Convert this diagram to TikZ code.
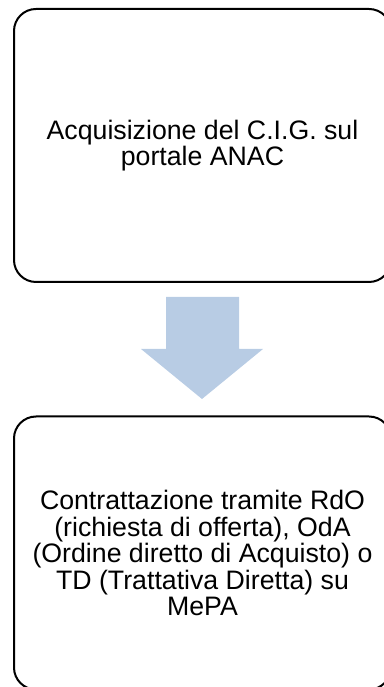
\documentclass[tikz,border=0pt]{standalone}
\usepackage{fontspec}
\setmainfont{Liberation Sans}
\definecolor{arrowblue}{RGB}{184,204,228}
\begin{document}
\begin{tikzpicture}[x=1pt,y=1pt,
	stepbox/.style={draw,line width=2pt,rounded corners=22pt,inner sep=0pt,
		minimum width=377pt,minimum height=273pt,align=center,
		font=\fontsize{26.7}{26.5}\selectfont}]
	\useasboundingbox (0,0) rectangle (383,687);
	\node[stepbox] (cig) at (202.5,541.5) {Acquisizione del C.I.G. sul\\portale ANAC};
	\node[stepbox] (mepa) at (202.5,134) {Contrattazione tramite RdO\\(richiesta di offerta), OdA\\(Ordine diretto di Acquisto) o\\TD (Trattativa Diretta) su\\MePA};
	% freccia
	\fill[arrowblue] (166,390) -- (239,390) -- (239,338) -- (263,338) 
		-- (202,288) -- (141,338) -- (166,338) -- cycle;
\end{tikzpicture}
\end{document}
